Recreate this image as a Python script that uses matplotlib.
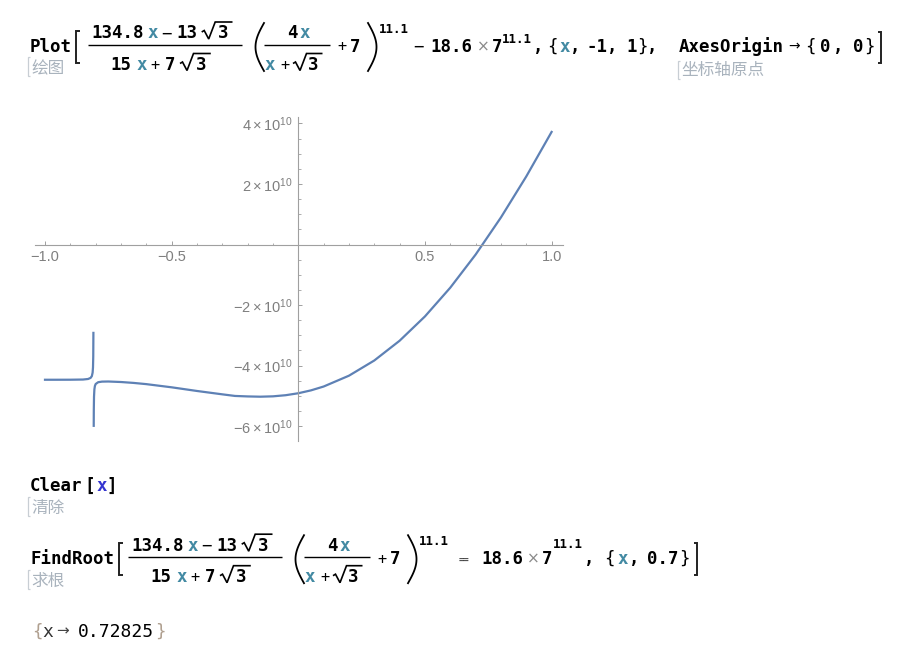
import numpy as np
import matplotlib
matplotlib.use('Agg')
import matplotlib.pyplot as plt

# ---------------- data ----------------
left_x = [-1.0, -0.95, -0.9, -0.85, -0.83, -0.82, -0.815, -0.812, -0.8105, -0.8095, -0.8089]
left_y = [-4.468e10, -4.468e10, -4.467e10, -4.461e10, -4.443e10, -4.407e10, -4.347e10,
          -4.232e10, -4.059e10, -3.700e10, -2.920e10]
right_x = [-0.80765, -0.8073, -0.8065, -0.805, -0.803, -0.8, -0.79, -0.775, -0.75, -0.7, -0.65,
           -0.6, -0.5, -0.4, -0.3, -0.25, -0.2, -0.15, -0.1, -0.05, 0.0, 0.05, 0.1, 0.2, 0.3,
           0.4, 0.5, 0.6, 0.7, 0.8, 0.9, 1.0]
right_y = [-5.990e10, -5.462e10, -5.029e10, -4.784e10, -4.674e10, -4.609e10, -4.549e10,
           -4.530e10, -4.526e10, -4.543e10, -4.573e10, -4.613e10, -4.718e10, -4.839e10,
           -4.950e10, -5.003e10, -5.019e10, -5.028e10, -5.016e10, -4.979e10, -4.914e10,
           -4.819e10, -4.692e10, -4.334e10, -3.832e10, -3.179e10, -2.376e10, -1.426e10,
           -0.333e10, 0.894e10, 2.248e10, 3.719e10]
x_major = [-1.0, -0.5, 0.5, 1.0]
x_labels = ['−1.0', '−0.5', '0.5', '1.0']
y_major = [-6e10, -4e10, -2e10, 2e10, 4e10]
y_labels = [r'$-6\times10^{10}$', r'$-4\times10^{10}$', r'$-2\times10^{10}$',
            r'$2\times10^{10}$', r'$4\times10^{10}$']
root_text = '0.72825'

plt.rcParams['mathtext.fontset'] = 'custom'
plt.rcParams['mathtext.rm'] = 'Liberation Sans'
plt.rcParams['mathtext.it'] = 'Liberation Sans:italic'
plt.rcParams['mathtext.bf'] = 'Liberation Sans:bold'

W, H = 900, 654
fig = plt.figure(figsize=(W / 100, H / 100), dpi=100)
fig.patch.set_facecolor('white')

# overlay axes in pixel coordinates for the notebook text
ov = fig.add_axes([0, 0, 1, 1])
ov.set_xlim(0, W)
ov.set_ylim(H, 0)
ov.axis('off')

MONO = 'DejaVu Sans Mono'
CJK = ['Noto Sans CJK SC', 'DejaVu Sans']
BLK = '#000000'
TEAL = '#438aa3'
GRAYL = '#a9b3bd'


def t(x, y, s, size=12.5, color=BLK, weight='bold', family=MONO, **kw):
    ov.text(x, y, s, ha='left', va='baseline', fontsize=size, color=color,
            fontweight=weight, family=family, **kw)


def line(pts, lw=1.0, color=BLK):
    xs = [p[0] for p in pts]
    ys = [p[1] for p in pts]
    ov.plot(xs, ys, color=color, lw=lw, solid_capstyle='butt', solid_joinstyle='miter')


def sqrt3(x0, by, gap=16.3):
    line([(x0, by - 6.5), (x0 + 2.5, by - 8), (x0 + 7, by + 0.5), (x0 + 13.5, by - 16.5),
          (x0 + gap + 14.5, by - 16.5)], lw=1.2)
    t(x0 + gap, by, '3')


def paren(x_end, y0, y1, left=True, bulge=8.5):
    tt = np.linspace(0, 1, 40)
    yy = y0 + (y1 - y0) * tt
    if left:
        xx = x_end - bulge * np.sin(np.pi * tt)
    else:
        xx = x_end + bulge * np.sin(np.pi * tt)
    ov.plot(xx, yy, color=BLK, lw=1.3)


def bracket(x, y0, y1, left=True, color='#222222', lw=1.4, w=3.5):
    d = w if left else -w
    line([(x + d, y0), (x, y0), (x, y1), (x + d, y1)], lw=lw, color=color)


def expression(dx, dy):
    # first fraction
    nb, db = 38.5 + dy, 70 + dy
    t(91.7 + dx, nb, '134.8')
    t(148 + dx, nb, 'x', color=TEAL)
    t(161 + dx, nb, '−', weight='normal')
    t(176.7 + dx, nb, '13')
    sqrt3(201.7 + dx, nb)
    line([(88.3 + dx, 44.5 + dy), (241.7 + dx, 44.5 + dy)], lw=1.0)
    t(110 + dx, db, '15')
    t(136.7 + dx, db, 'x', color=TEAL)
    t(150.5 + dx, db, '+', weight='normal', size=11)
    t(165 + dx, db, '7')
    sqrt3(180 + dx, db)
    # parenthesised part
    paren(264 + dx, 23 + dy, 71 + dy, left=True)
    t(286.7 + dx, nb, '4')
    t(300 + dx, nb, 'x', color=TEAL)
    line([(263.5 + dx, 44.5 + dy), (330 + dx, 44.5 + dy)], lw=1.0)
    t(265 + dx, db, 'x', color=TEAL)
    t(280.5 + dx, db, '+', weight='normal', size=11)
    sqrt3(293 + dx, db, gap=15)
    t(337 + dx, 51.5 + dy, '+', weight='normal', size=11)
    t(350 + dx, 51.5 + dy, '7')
    paren(368 + dx, 23 + dy, 71 + dy, left=False)
    t(379 + dx, 33 + dy, '11.1', size=9)


# ---------------- line 1: Plot[...] ----------------
B1 = 51.5
t(29.5, B1, 'Plot')
bracket(76, 30.5, 63)
expression(0, 0)
t(413, B1, '−', weight='normal')
t(430, B1, '18.6')
t(477, B1, '×', weight='normal', color='#8a8a8a', size=11, family='DejaVu Sans')
t(491.7, B1, '7')
t(502, 43.3, '11.1', size=9)
t(532.5, B1, ',')
t(547.5, B1, '{', weight='normal')
t(560, B1, 'x', color=TEAL)
t(570, B1, ',')
t(586.7, B1, '-1')
t(606.5, B1, ',')
t(626.7, B1, '1')
t(637, B1, '}', weight='normal')
t(647, B1, ',')
t(678.3, B1, 'AxesOrigin')
t(788.5, B1 - 1, '→', weight='normal', size=10, family='DejaVu Sans')
t(805.5, B1, '{', weight='normal')
t(820, B1, '0')
t(833, B1, ',')
t(853, B1, '0')
t(864, B1, '}', weight='normal')
bracket(881, 31.7, 63.3, left=False)

t(31, 73, '绘图', size=12, color=GRAYL, weight='normal', family=CJK)
bracket(28, 57, 76, color='#c8ced4', lw=0.9, w=2.2)
t(681.7, 74.5, '坐标轴原点', size=12, color=GRAYL, weight='normal', family=CJK)
bracket(677.5, 60.5, 78.5, color='#c8ced4', lw=0.9, w=2.2)

# ---------------- Clear[x] ----------------
t(30, 490.7, 'Clear')
t(84.5, 490.7, '[')
t(96.7, 490.7, 'x', color='#3535d0')
t(106.5, 490.7, ']')
t(31, 512.5, '清除', size=12, color=GRAYL, weight='normal', family=CJK)
bracket(28, 497, 516, color='#c8ced4', lw=0.9, w=2.2)

# ---------------- FindRoot[...] ----------------
DY = 512.2
B3 = B1 + DY
t(30, B3, 'FindRoot')
bracket(119, 543, 575)
expression(40, DY)
t(459, B3 - 1, '==', weight='bold', size=6.5, color='#444444')
t(481.7, B3, '18.6')
t(526.7, B3, '×', weight='normal', color='#8a8a8a', size=11, family='DejaVu Sans')
t(541.7, B3, '7')
t(553, 548, '11.1', size=9)
t(584, B3, ',')
t(604, B3, '{', weight='normal')
t(618, B3, 'x', color=TEAL)
t(629, B3, ',')
t(646.7, B3, '0.7')
t(679, B3, '}', weight='normal')
bracket(697, 543, 575, left=False)
t(31, 585.5, '求根', size=12, color=GRAYL, weight='normal', family=CJK)
bracket(28, 570, 589, color='#c8ced4', lw=0.9, w=2.2)

# ---------------- output ----------------
B4 = 636.7
t(32, B4, '{', weight='normal', color='#b0a090', size=12.5)
t(42, B4, 'x', weight='normal', color='#333333', size=13)
t(56, B4 - 1, '→', weight='normal', size=11, family='DejaVu Sans', color='#444444')
t(78.3, B4, root_text, weight='normal', size=13)
t(155.5, B4, '}', weight='normal', color='#b0a090', size=12.5)

# ---------------- the plot ----------------
px_per_x = 253.3
x0_px = 298.3
xlim = (-1.04, 1.045)
px_per_y = 30.27e-10     # pixels per unit of y (30.27 px per 1e10)
y0_px = 244.5
ytop_px, ybot_px = 117.0, 441.0
ylim = ((y0_px - ybot_px) / px_per_y, (y0_px - ytop_px) / px_per_y)
left_px = x0_px + xlim[0] * px_per_x
width_px = (xlim[1] - xlim[0]) * px_per_x
ax = fig.add_axes([left_px / W, (H - ybot_px) / H, width_px / W, (ybot_px - ytop_px) / H])
ax.patch.set_visible(False)

LINEC = '#5E81B5'
ax.plot(left_x, left_y, color=LINEC, lw=1.6, solid_joinstyle='round')
ax.plot(right_x, right_y, color=LINEC, lw=1.6, solid_joinstyle='round')

AXC = '#a0a0a0'
for s in ['top', 'right']:
    ax.spines[s].set_visible(False)
ax.spines['left'].set_position(('data', 0))
ax.spines['bottom'].set_position(('data', 0))
for s in ['left', 'bottom']:
    ax.spines[s].set_color(AXC)
    ax.spines[s].set_linewidth(0.8)

ax.set_xticks(x_major)
ax.set_xticklabels(x_labels)
ax.set_xticks([v / 10 for v in range(-10, 11) if v % 5 != 0], minor=True)
ax.set_yticks(y_major)
ax.set_yticklabels(y_labels)
ax.set_yticks([v * 0.5e10 for v in range(-12, 9) if v % 4 != 0], minor=True)
ax.set_xlim(*xlim)
ax.set_ylim(*ylim)

ax.tick_params(which='major', direction='in', length=3.0, width=0.7, color=AXC,
               labelsize=10.5, labelcolor='#7f7f7f')
ax.tick_params(which='minor', direction='in', length=1.8, width=0.6, color=AXC)
ax.tick_params(axis='x', which='major', pad=4)
ax.tick_params(axis='y', which='major', pad=4)
for lab in ax.get_xticklabels() + ax.get_yticklabels():
    lab.set_family('Liberation Sans')

fig.savefig('out.png', dpi=100, facecolor='white')
